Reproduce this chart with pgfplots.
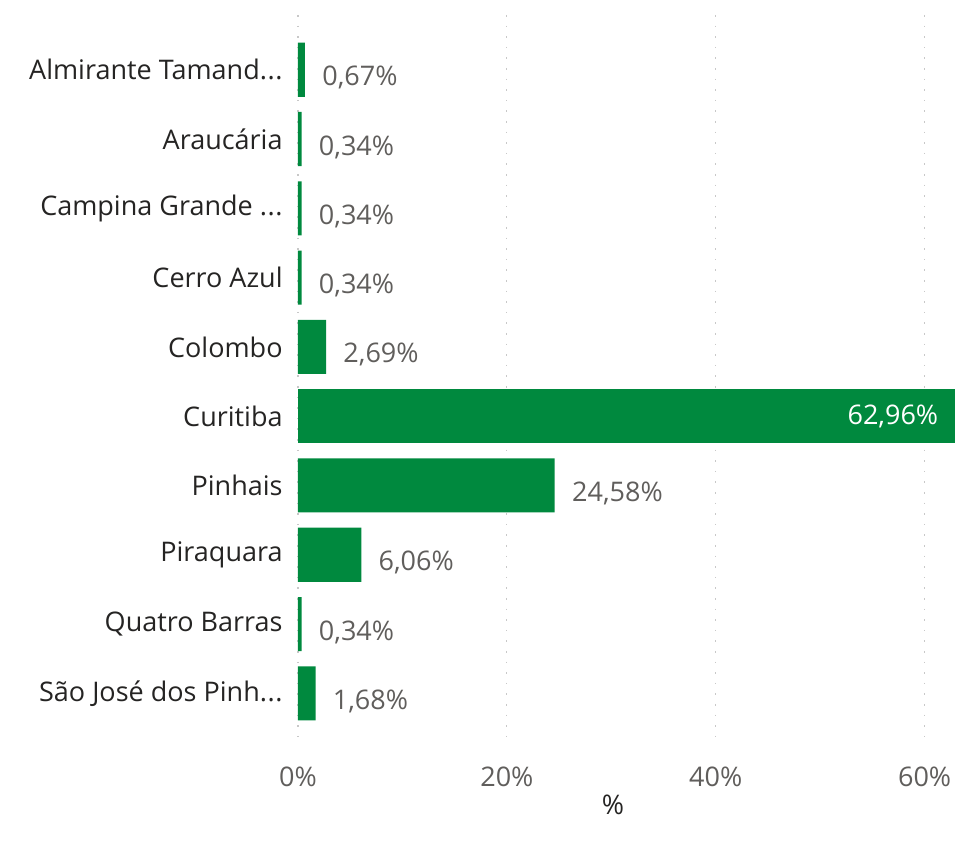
\documentclass[border=0pt]{standalone}
\usepackage{fontspec}
\setmainfont{Open Sans}
\usepackage{pgfplots}
\usepackage{pgfplotstable}
\pgfplotsset{compat=1.18}
\definecolor{barverde}{HTML}{00893E}
\definecolor{rotulo}{HTML}{252423}
\definecolor{valor}{HTML}{605E5C}
\definecolor{grade}{HTML}{C8C8C8}
\newcommand{\rt}{.\kern0.3pt.\kern0.3pt.}

% municipios, na ordem do grafico (0 = topo)
\pgfplotstableread{
idx val
0 0.67
1 0.34
2 0.34
3 0.34
4 2.69
6 24.58
7 6.06
8 0.34
9 1.68
}\outros
\pgfplotstableread{
idx val
5 62.96
}\curitiba

\begin{document}
\fontsize{13.5pt}{16pt}\selectfont
\begin{tikzpicture}
\useasboundingbox (-149pt,-47.5pt) rectangle (328.5pt,373pt);
\begin{axis}[
  /pgf/number format/assume math mode=true,
  xbar, bar shift=0pt, bar width=0.78,
  scale only axis, width=329pt, height=365.5pt,
  xmin=0, xmax=63, ymin=-0.79, ymax=9.76, y dir=reverse,
  ytick={0,...,9},
  yticklabels={Almirante Tamand\rt,Araucária,Campina Grande \rt,Cerro Azul,Colombo,Curitiba,Pinhais,Piraquara,Quatro Barras,São José dos Pinh\rt},
  xtick={0,20,40,60},
  xticklabel={\pgfmathprintnumber{\tick}\%},
  xmajorgrids,
  grid style={grade, line width=0.6pt, dash pattern=on 0.8pt off 4.5pt},
  axis line style={draw=none},
  major tick length=0pt,
  yticklabel style={color=rotulo, inner sep=0pt, xshift=-7.5pt},
  xticklabel style={color=valor, yshift=-6pt},
  xlabel={\%}, xlabel style={color=rotulo, yshift=5.5pt, xshift=-7pt},
  point meta=x,
  nodes near coords={\pgfmathprintnumber[fixed,fixed zerofill,precision=2,use comma]{\pgfplotspointmeta}\%},
  every node near coord/.append style={inner sep=0pt, color=valor, anchor=west, xshift=8.5pt, yshift=-4pt},
]
\addplot[fill=barverde, draw=none] table[x=val, y=idx] {\outros};
\addplot[fill=barverde, draw=none,
  every node near coord/.append style={anchor=east, xshift=-17pt, yshift=4pt, color=white}]
  table[x=val, y=idx] {\curitiba};
\end{axis}
\end{tikzpicture}
\end{document}
